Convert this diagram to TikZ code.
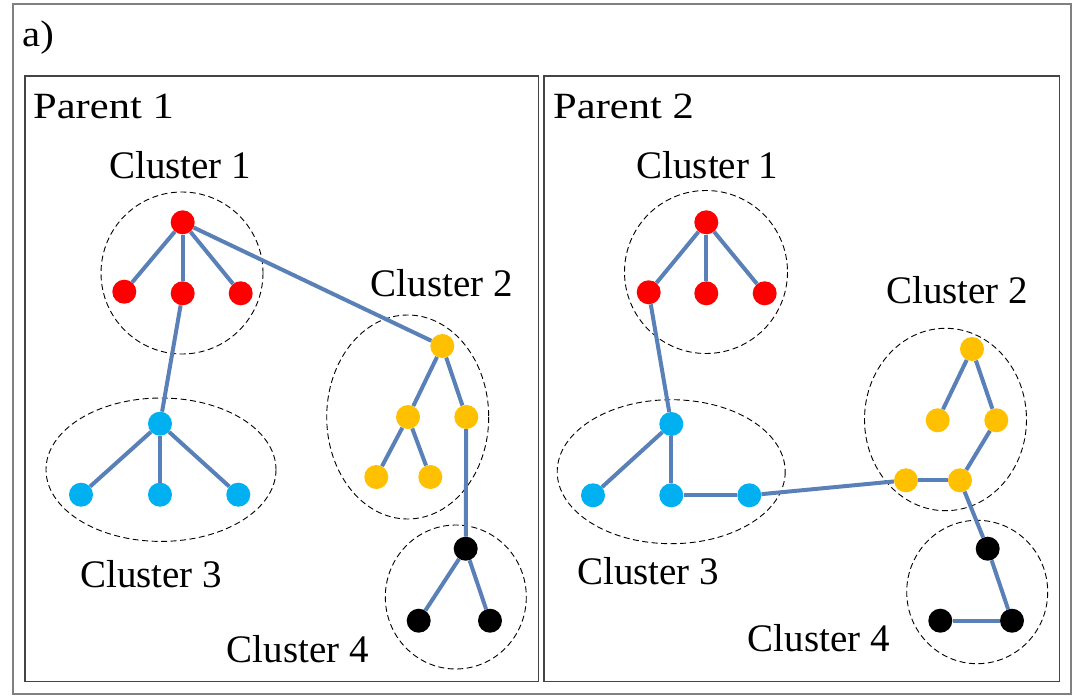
\documentclass[tikz,border=0pt]{standalone}
\usepackage{graphicx}
\usepackage{fontspec}
\setmainfont{Liberation Serif}
\definecolor{edgec}{HTML}{5A80B8}
\definecolor{nred}{HTML}{FF0000}
\definecolor{nyel}{HTML}{FFC000}
\definecolor{nblu}{HTML}{00B0F0}
\definecolor{framec}{HTML}{808080}
\definecolor{boxc}{HTML}{444444}
\begin{document}
\begin{tikzpicture}[x=1pt,y=-1pt,
  vert/.style={circle,inner sep=0pt,minimum size=24pt,fill=#1},
  lnk/.style={draw=edgec,line width=4pt},
  clus/.style={draw=black,line width=0.9pt,dash pattern=on 6pt off 3.5pt},
  lab/.style={anchor=base west,inner sep=0pt,font=\fontsize{39}{46}\selectfont},
  plab/.style={anchor=base west,inner sep=0pt,font=\fontsize{37}{44}\selectfont}]
\useasboundingbox (0,0) rectangle (1074,696);
\fill[white] (0,0) rectangle (1074,696);
\draw[framec,line width=1.8pt] (12.7,4) rectangle (1071,694);
\draw[boxc,line width=1.2pt] (25,76) rectangle (538.3,681.3);
\draw[boxc,line width=1.2pt] (544,76) rectangle (1059.3,681.3);
\node[plab] (ta) at (22,46) {\scalebox{1.1}[1]{a)}};
\node[plab] (tp1) at (33,118) {\scalebox{1.15}[1]{Parent 1}};
\node[plab] (tp2) at (553,118) {\scalebox{1.15}[1]{Parent 2}};
% Parent 1 clusters
\draw[clus] (182,273) ellipse [x radius=81, y radius=81];
\draw[clus] (407.7,417) ellipse [x radius=81, y radius=102];
\draw[clus] (161,469.7) ellipse [x radius=115, y radius=71.7];
\draw[clus] (455.8,597) ellipse [x radius=70.5, y radius=72];
\node[lab] (p1c1) at (109,178) {Cluster 1};
\node[lab] (p1c2) at (370.7,296.7) {Cluster 2};
\node[lab] (p1c3) at (80,587.3) {Cluster 3};
\node[lab] (p1c4) at (226.7,662) {Cluster 4};
% Parent 1 vertices
\node[vert=nred] (ar) at (182.7,222.3) {};
\node[vert=nred] (al) at (124.3,291.7) {};
\node[vert=nred] (am) at (182.7,293.3) {};
\node[vert=nred] (an) at (240.7,293.3) {};
\node[vert=nyel] (by) at (442.3,346) {};
\node[vert=nyel] (bl) at (408,417) {};
\node[vert=nyel] (br) at (466.3,417) {};
\node[vert=nyel] (bbl) at (376.3,477) {};
\node[vert=nyel] (bbm) at (430.3,477) {};
\node[vert=nblu] (ct) at (160,423.7) {};
\node[vert=nblu] (cl) at (81,494.7) {};
\node[vert=nblu] (cm) at (160,494.7) {};
\node[vert=nblu] (cr) at (238.3,494.7) {};
\node[vert=black] (dt) at (465.7,548.7) {};
\node[vert=black] (dl) at (418.7,620.7) {};
\node[vert=black] (dr) at (490,620.7) {};
\draw[lnk] (ar) -- (al);
\draw[lnk] (ar) -- (am);
\draw[lnk] (ar) -- (an);
\draw[lnk] (ar) -- (by);
\draw[lnk] (am) -- (ct);
\draw[lnk] (by) -- (bl);
\draw[lnk] (by) -- (br);
\draw[lnk] (bl) -- (bbl);
\draw[lnk] (bl) -- (bbm);
\draw[lnk] (br) -- (dt);
\draw[lnk] (ct) -- (cl);
\draw[lnk] (ct) -- (cm);
\draw[lnk] (ct) -- (cr);
\draw[lnk] (dt) -- (dl);
\draw[lnk] (dt) -- (dr);
% Parent 2 clusters
\draw[clus] (706,272) ellipse [x radius=81.5, y radius=81.5];
\draw[clus] (945.5,419.5) ellipse [x radius=81, y radius=91.2];
\draw[clus] (671.2,471.7) ellipse [x radius=114, y radius=72];
\draw[clus] (977.2,592) ellipse [x radius=70.5, y radius=71.7];
\node[lab] (p2c1) at (636.3,178) {Cluster 1};
\node[lab] (p2c2) at (886,303.3) {Cluster 2};
\node[lab] (p2c3) at (577,584.7) {Cluster 3};
\node[lab] (p2c4) at (747.7,651.3) {Cluster 4};
% Parent 2 vertices
\node[vert=nred] (er) at (706.3,222.3) {};
\node[vert=nred] (el) at (648.7,292.3) {};
\node[vert=nred] (em) at (706.3,293.3) {};
\node[vert=nred] (en) at (764.7,293.3) {};
\node[vert=nyel] (fy) at (972,349) {};
\node[vert=nyel] (fl) at (937.7,420.3) {};
\node[vert=nyel] (fr) at (996.3,420.3) {};
\node[vert=nyel] (fbl) at (906,480.3) {};
\node[vert=nyel] (fbr) at (960,480.3) {};
\node[vert=nblu] (gt) at (671.3,424) {};
\node[vert=nblu] (gl) at (593,495.3) {};
\node[vert=nblu] (gm) at (671.3,495.3) {};
\node[vert=nblu] (gr) at (749.3,495.3) {};
\node[vert=black] (ht) at (987.7,548.7) {};
\node[vert=black] (hl) at (940.3,620.7) {};
\node[vert=black] (hr) at (1012,620.7) {};
\draw[lnk] (er) -- (el);
\draw[lnk] (er) -- (em);
\draw[lnk] (er) -- (en);
\draw[lnk] (el) -- (gt);
\draw[lnk] (gt) -- (gl);
\draw[lnk] (gt) -- (gm);
\draw[lnk] (gm) -- (gr);
\draw[lnk] (gr) -- (fbl);
\draw[lnk] (fy) -- (fl);
\draw[lnk] (fy) -- (fr);
\draw[lnk] (fr) -- (fbr);
\draw[lnk] (fbl) -- (fbr);
\draw[lnk] (fbr) -- (ht);
\draw[lnk] (ht) -- (hr);
\draw[lnk] (hl) -- (hr);
\end{tikzpicture}
\end{document}
